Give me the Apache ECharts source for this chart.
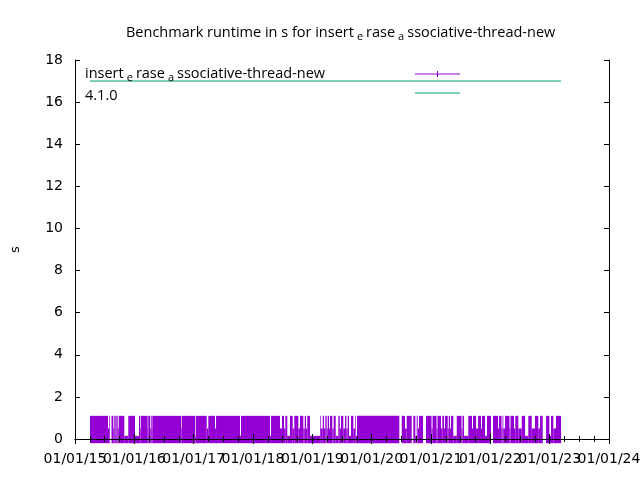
<!DOCTYPE html>
<html>
<head>
<meta charset="utf-8">
<script src="https://cdn.jsdelivr.net/npm/echarts@6/dist/echarts.min.js"></script>
<style>html,body{margin:0;padding:0;background:#fff}#chart{width:640px;height:480px}</style>
</head>
<body>
<div id="chart"></div>
<script>
// x values are decimal years
const xTicks = [2015, 2016, 2017, 2018, 2019, 2020, 2021, 2022, 2023, 2024];
const xTickLabels = ['01/01/15', '01/01/16', '01/01/17', '01/01/18', '01/01/19', '01/01/20', '01/01/21', '01/01/22', '01/01/23', '01/01/24'];
const yTicks = [0, 2, 4, 6, 8, 10, 12, 14, 16, 18];
const seriesNames = ['insert_erase_associative-thread-new', '4.1.0'];

// Run time error bars, grouped into consecutive benchmark periods:
// period i spans periodEdges[i] .. periodEdges[i+1] with upper bound periodHigh[i] (null = no runs)
const periodEdges = [
  2015.253, 2015.556, 2015.578, 2015.590, 2015.615, 2015.646, 2015.662, 2015.686, 2015.696, 2015.720,
  2015.737, 2015.831, 2015.898, 2016.011, 2016.079, 2016.101, 2016.112, 2016.225, 2016.235, 2016.269,
  2016.281, 2016.293, 2016.303, 2016.787, 2016.798, 2017.023, 2017.034, 2017.220, 2017.247, 2017.360,
  2017.377, 2017.781, 2017.798, 2018.287, 2018.304, 2018.455, 2018.489, 2018.523, 2018.545, 2018.578,
  2018.624, 2018.669, 2018.696, 2018.764, 2018.792, 2018.848, 2018.872, 2018.894, 2018.915, 2018.961,
  2019.129, 2019.141, 2019.175, 2019.197, 2019.219, 2019.242, 2019.259, 2019.281, 2019.298, 2019.337,
  2019.360, 2019.394, 2019.438, 2019.462, 2019.483, 2019.522, 2019.551, 2019.573, 2019.596, 2019.618,
  2019.652, 2019.691, 2019.719, 2019.731, 2019.753, 2020.466, 2020.507, 2020.562, 2020.591, 2020.675,
  2020.702, 2020.736, 2020.759, 2020.776, 2020.798, 2020.866, 2020.916, 2021.009, 2021.026, 2021.093,
  2021.110, 2021.169, 2021.191, 2021.220, 2021.236, 2021.282, 2021.299, 2021.321, 2021.337, 2021.376,
  2021.434, 2021.514, 2021.531, 2021.557, 2021.629, 2021.691, 2021.708, 2021.759, 2021.793, 2021.843,
  2021.860, 2021.911, 2021.944, 2022.012, 2022.045, 2022.130, 2022.147, 2022.189, 2022.206, 2022.219,
  2022.248, 2022.323, 2022.340, 2022.399, 2022.421, 2022.472, 2022.529, 2022.585, 2022.640, 2022.698,
  2022.753, 2022.809, 2022.838, 2022.883, 2022.939, 2022.994, 2023.023, 2023.062, 2023.107, 2023.192
];
const periodHigh = [
  1.1, 0.5, 1.1, null, 1.1, 0.5, 1.1, 0.15, 1.1, 0.5,
  1.1, 0.15, 1.1, 0.15, 1.1, 0.5, 1.1, 0.5, 1.1, 0.5,
  1.1, 0.5, 1.1, 0.5, 1.1, 0.15, 1.1, 0.5, 1.1, 0.5,
  1.1, 0.15, 1.1, 0.15, 1.1, 0.5, 1.1, 0.5, 1.1, 0.15,
  1.1, 0.5, 1.1, 0.5, 1.1, 0.5, 1.1, 0.5, 1.1, 0.15,
  1.1, 0.5, 1.1, 0.5, 1.1, 0.5, 1.1, 0.5, 1.1, 0.5,
  1.1, 0.15, 1.1, 0.5, 1.1, 0.5, 1.1, 0.5, 1.1, 0.15,
  1.1, 0.5, 1.1, 0.15, 1.1, null, 1.1, 0.5, 1.1, null,
  1.1, 0.15, 1.1, 0.5, 1.1, null, 1.1, 0.5, 1.1, 0.5,
  1.1, 0.5, 1.1, 0.5, 1.1, 0.5, 1.1, 0.5, 1.1, 0.15,
  1.1, 0.5, 1.1, 0.15, 1.1, 0.5, 1.1, 0.5, 1.1, 0.5,
  1.1, 0.15, 1.1, null, 1.1, 0.5, 1.1, 0.5, 1.1, 0.5,
  1.1, 0.5, 1.1, 0.5, 1.1, 0.5, 1.1, 0.15, 1.1, 0.5,
  1.1, 0.5, 1.1, null, 1.1, 0.15, 1.1, 0.5, 1.1
];
const periodLow = -0.2;

// version marker 4.1.0
const v410X = [2015.253, 2023.192];
const v410Y = [17, 17];

const purple = '#9400d3';
const green = '#009e73';

const errData = [];
for (let i = 0; i < periodHigh.length; i++) {
  if (periodHigh[i] === null) continue;
  errData.push([periodEdges[i], periodEdges[i + 1], periodLow, periodHigh[i]]);
}
const lineData = v410X.map((x, i) => [x, v410Y[i]]);
const tickLabelData = xTicks.map((x, i) => [x, yTicks[0], xTickLabels[i]]);

const chart = echarts.init(document.getElementById('chart'), null, {renderer: 'canvas'});
const tickFont = {fontFamily: 'DejaVu Sans', fontSize: 14, color: '#000'};
const textFont = 'Open Sans';
const richSub = {
  n: {fontFamily: textFont, fontSize: 14.5, fontWeight: 'normal', color: '#000', lineHeight: 20},
  s: {fontFamily: textFont, fontSize: 11, fontWeight: 'normal', color: '#000', padding: [8, 3, 0, 3], lineHeight: 12}
};
function subText(name) {
  // gnuplot enhanced text: '_x' renders x as subscript
  const parts = name.split('_');
  let out = '{n|' + parts[0] + '}';
  for (let i = 1; i < parts.length; i++) {
    out += '{s|' + parts[i].charAt(0) + '}{n|' + parts[i].slice(1) + '}';
  }
  return out;
}

const baseX = {
  type: 'value', min: xTicks[0], max: xTicks[xTicks.length - 1], interval: 1,
  axisLine: {show: true, lineStyle: {color: '#000', width: 1}},
  axisTick: {show: true, inside: true, length: 5, lineStyle: {color: '#000'}},
  minorTick: {show: true, splitNumber: 4, length: 3, lineStyle: {color: '#000'}},
  axisLabel: {show: false},
  splitLine: {show: false}, z: 10
};
const baseY = {
  type: 'value', min: yTicks[0], max: yTicks[yTicks.length - 1], interval: 2,
  axisLine: {show: true, lineStyle: {color: '#000', width: 1}},
  axisTick: {show: true, inside: true, length: 5, lineStyle: {color: '#000'}},
  splitLine: {show: false}, z: 10
};
const icons = ['path://M0,4.5h45v1h-45z M22,2h1v6h-1z', 'path://M0,4.5h45v1h-45z'];
const colors = [purple, green];

chart.setOption({
  animation: false,
  backgroundColor: '#fff',
  title: {
    text: subText('Benchmark runtime in s for ' + seriesNames[0]),
    left: 121, top: 18,
    textStyle: {fontWeight: 'normal', rich: richSub}
  },
  grid: {left: 75, right: 31, top: 60, bottom: 41, outerBoundsMode: 'none', containLabel: false},
  legend: [
    {
      orient: 'vertical', left: 79, top: 64, padding: 0,
      itemWidth: 1, itemHeight: 10, itemGap: 5,
      formatter: name => subText(name),
      textStyle: {rich: richSub},
      data: seriesNames.map((n, i) => ({name: n, icon: 'rect', itemStyle: {color: 'rgba(0,0,0,0)'}}))
    },
    {
      orient: 'vertical', left: 415, top: 69, padding: 0,
      itemWidth: 45, itemHeight: 10, itemGap: 11,
      formatter: () => '',
      data: seriesNames.map((n, i) => ({name: n, icon: icons[i], itemStyle: {color: colors[i]}}))
    }
  ],
  xAxis: [
    Object.assign({}, baseX, {position: 'bottom'}),
    Object.assign({}, baseX, {position: 'top'})
  ],
  yAxis: [
    Object.assign({}, baseY, {position: 'left', name: 's', nameLocation: 'middle', nameGap: 53, nameRotate: 90,
      nameTextStyle: {fontFamily: 'DejaVu Sans', fontSize: 13, color: '#000'},
      axisLabel: Object.assign({}, tickFont, {margin: 12})}),
    Object.assign({}, baseY, {position: 'right', axisLabel: {show: false}})
  ],
  series: [
    {
      name: seriesNames[0], type: 'custom', clip: false,
      itemStyle: {color: purple},
      encode: {x: [0, 1], y: [2, 3]},
      data: errData,
      renderItem: function (params, api) {
        const p1 = api.coord([api.value(0), api.value(3)]);
        const p2 = api.coord([api.value(1), api.value(2)]);
        return {type: 'rect', shape: {x: p1[0], y: p1[1], width: p2[0] - p1[0], height: p2[1] - p1[1]},
          style: {fill: purple}};
      }
    },
    {
      name: seriesNames[1], type: 'line', data: lineData, symbol: 'none',
      lineStyle: {color: green, width: 1}, itemStyle: {color: green}
    },
    {
      name: 'xTickLabels', type: 'custom', clip: false, silent: true, z: 11,
      encode: {x: 0, y: 1},
      data: tickLabelData,
      renderItem: function (params, api) {
        const p = api.coord([api.value(0), api.value(1)]);
        return {type: 'text', x: p[0], y: p[1] + 13,
          style: {text: tickLabelData[params.dataIndex][2], textAlign: 'center', textVerticalAlign: 'top',
            font: '14px "DejaVu Sans"', fill: '#000'}};
      }
    }
  ]
});
</script>
</body>
</html>
